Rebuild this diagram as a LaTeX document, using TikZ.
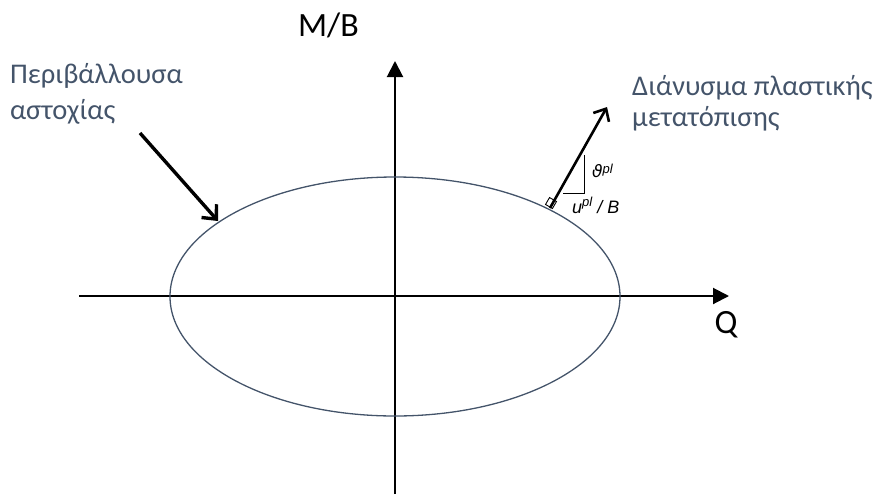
\documentclass[tikz,border=0pt]{standalone}
\usepackage{fontspec}
\setmainfont{Carlito}
\newfontfamily\arialf{Liberation Sans}
\newfontfamily\djf{DejaVu Sans}
\usetikzlibrary{arrows.meta,shapes.geometric}
\definecolor{slate}{HTML}{44546A}
\tikzset{
  axis/.style={line width=2pt,-{Triangle[length=16pt,width=16pt]}},
  lbl/.style={text=slate,align=left,inner sep=0pt,anchor=base west},
  big/.style={font=\fontsize{34}{34}\selectfont,inner sep=0pt},
  small/.style={font=\arialf\itshape\fontsize{18}{18}\selectfont,inner sep=0pt}
}
\begin{document}
\begin{tikzpicture}[x=1pt,y=-1pt]
\useasboundingbox (0,0) rectangle (886,498);
\coordinate (xs) at (79,296);
\coordinate (xe) at (729,296);
\coordinate (ys) at (395,494);
\coordinate (ye) at (395,61);
\draw[axis] (xs) -- (xe);
\draw[axis] (ys) -- (ye);
\node[draw=slate,line width=1.3pt,ellipse,minimum width=450pt,minimum height=239pt,inner sep=0pt] (env) at (395,296.5) {};
\node[big,anchor=base] (mb) at (328.5,36) {M/B};
\node[big,anchor=base] (q) at (726,333) {Q};
\node[lbl,font=\fontsize{28.5}{36}\selectfont] (pl) at (10,119) {Περιβάλλουσα\\αστοχίας};
\node[lbl,font=\fontsize{28.5}{31}\selectfont] (dp) at (632,126) {Διάνυσμα πλαστικής\\μετατόπισης};
\coordinate (a1) at (140,133);
\coordinate (a2) at (218,221);
\draw[line width=3.4pt,-{Straight Barb[length=11pt,width=20pt]}] (a1) -- (a2);
\coordinate (b1) at (550,208);
\coordinate (b2) at (607,107);
\draw[line width=2.6pt,-{Straight Barb[length=10pt,width=18pt]}] (b1) -- (b2);
\coordinate (t1) at (584,155);
\coordinate (t2) at (584,193);
\coordinate (t3) at (563,193);
\draw[line width=1pt] (t1) -- (t2) -- (t3);
\draw[line width=0.9pt,rotate around={-30:(551,203)}] (547,199) rectangle (555,207);
\node[small,anchor=base west] (th) at (592,177) {{\djf\itshape\fontsize{17}{17}\selectfont ϑ}{\fontsize{13}{13}\selectfont\raisebox{4pt}{pl}}};
\node[small,anchor=base west] (up) at (572,213) {u{\fontsize{13}{13}\selectfont\raisebox{7pt}{pl}} / B};
\end{tikzpicture}
\end{document}
